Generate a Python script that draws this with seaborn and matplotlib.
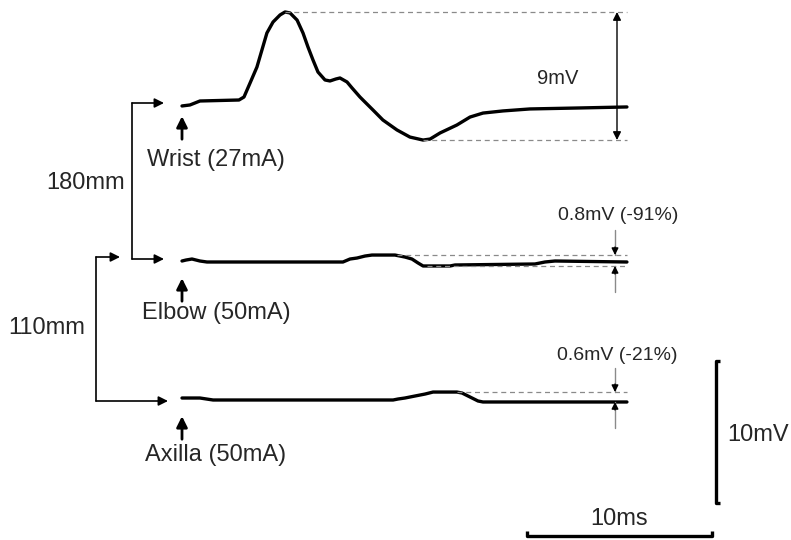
import numpy as np
import pandas as pd
import seaborn as sns
import matplotlib.pyplot as plt

# traces: time (ms after stimulus), amplitude (mV, relative to start baseline)
wrist_t = [0, 0.43, 0.70, 0.97, 3.08, 3.35, 3.68, 4.05, 4.32, 4.59, 4.92, 5.30, 5.57, 5.84, 6.22,
           6.54, 6.81, 7.08, 7.35, 7.73, 8.00, 8.32, 8.54, 8.92, 9.19, 9.62, 9.78, 10.32, 10.86,
           11.62, 12.32, 13.03, 13.41, 13.95, 14.86, 15.57, 16.27, 17.35, 18.81, 21.51, 24.05]
wrist_mv = [-0.42, -0.35, -0.21, -0.07, 0, 0.21, 1.20, 2.32, 3.52, 4.72, 5.49, 5.99, 6.20, 6.13, 5.63,
            4.72, 3.73, 2.82, 1.97, 1.41, 1.34, 1.48, 1.55, 1.27, 0.85, 0.21, 0, -0.70, -1.41,
            -2.11, -2.61, -2.82, -2.75, -2.32, -1.76, -1.20, -0.92, -0.77, -0.63, -0.56, -0.49]

elbow_t = [0, 0.22, 0.54, 0.97, 1.35, 8.70, 9.08, 9.46, 9.89, 10.27, 11.51, 12.05, 12.43, 12.76,
           13.03, 14.49, 14.76, 19.08, 19.62, 20.16, 24.05]
elbow_mv = [0.07, 0.14, 0.21, 0.07, 0, 0, 0.21, 0.28, 0.42, 0.49, 0.49, 0.35, 0.21, -0.07,
            -0.28, -0.28, -0.21, -0.14, 0, 0.07, 0]

axilla_t = [0, 0.97, 1.68, 11.41, 11.68, 12.05, 12.59, 13.14, 13.57, 14.86, 15.14, 15.57, 16.0,
            16.27, 24.05]
axilla_mv = [0.14, 0.14, 0, 0, 0.07, 0.14, 0.28, 0.42, 0.56, 0.56, 0.49, 0.21, -0.07, -0.14, -0.14]

site_labels = ["Wrist (27mA)", "Elbow (50mA)", "Axilla (50mA)"]
amp_labels = ["9mV", "0.8mV (-91%)", "0.6mV (-21%)"]
dist_labels = ["180mm", "110mm"]
scale_ms = 10
scale_mv = 10

# page layout: pixels per unit
MS_PX, MV_PX = 18.5, 14.2
X0, Y0 = 182, 400
def tx(px):
    return (px - X0) / MS_PX
def vy(py):
    return (Y0 - py) / MV_PX

sns.set_style("white")
plt.rcParams['font.family'] = ['Liberation Sans', 'DejaVu Sans']

fig = plt.figure(figsize=(7.91, 5.40), dpi=100)
ax = fig.add_axes([0, 0, 1, 1])
ax.set_xlim(tx(0), tx(791))
ax.set_ylim(vy(540), vy(0))
ax.axis('off')

offsets = [vy(100), vy(262), vy(400)]
traces = [(wrist_t, wrist_mv), (elbow_t, elbow_mv), (axilla_t, axilla_mv)]
for (t, mv), off in zip(traces, offsets):
    df = pd.DataFrame({"t": t, "mv": np.array(mv) + off})
    sns.lineplot(data=df, x="t", y="mv", sort=False, estimator=None,
                 color="black", lw=2.4, ax=ax)

def arrow(x0, y0, x1, y1, lw=1.0, ms=12, color="black"):
    ax.annotate("", xy=(x1, y1), xytext=(x0, y0),
                arrowprops=dict(arrowstyle="-|>", color=color, lw=lw,
                                shrinkA=0, shrinkB=0, mutation_scale=ms))

dash = dict(colors="#8a8a8a", linestyles=(0, (4, 3)), lw=0.9)
t_end = wrist_t[-1]

# wrist amplitude
w = np.array(wrist_mv)
top, bot = offsets[0] + w.max(), offsets[0] + w.min()
ax.hlines(top, wrist_t[int(w.argmax())], t_end, **dash)
ax.hlines(bot, wrist_t[int(w.argmin())], t_end, **dash)
ax.annotate("", xy=(tx(617), top), xytext=(tx(617), bot),
            arrowprops=dict(arrowstyle="<|-|>", color="black", lw=1.0,
                            shrinkA=0, shrinkB=0, mutation_scale=12))
ax.text(tx(558), vy(78), amp_labels[0], fontsize=14.5, ha="center", va="center")

# small amplitude markers (gray shaft, black head)
def small_arrow(x, y_from, y_to):
    ax.plot([x, x], [y_from, y_to], color="#8a8a8a", lw=1.0)
    d = np.sign(y_to - y_from) * 8 / MV_PX
    arrow(x, y_to - d, x, y_to, lw=1.0, ms=10)

e = np.array(elbow_mv)
etop, ebot = offsets[1] + e.max(), offsets[1] + e.min()
ax.hlines(etop, tx(397), t_end, **dash)
ax.hlines(ebot, tx(427), t_end, **dash)
small_arrow(tx(615), vy(230), etop)
small_arrow(tx(615), vy(292), ebot)
ax.text(tx(618), vy(215), amp_labels[1], fontsize=14, ha="center", va="center")

a = np.array(axilla_mv)
atop, aend = offsets[2] + a.max(), offsets[2] + a[-1]
ax.hlines(atop, tx(457), t_end, **dash)
small_arrow(tx(615), vy(368), atop)
small_arrow(tx(615), vy(428), aend)
ax.text(tx(617), vy(355), amp_labels[2], fontsize=14, ha="center", va="center")

# stimulus arrows and site labels
for off, lab, ly in zip(offsets, site_labels, [160, 313, 455]):
    y_base = off - 1.0
    arrow(0, y_base - 25 / MV_PX, 0, y_base - 2 / MV_PX, lw=2.0, ms=16)
    ax.text(tx(216), vy(ly), lab, fontsize=17, ha="center", va="center")

# distance brackets
ax.plot([tx(132), tx(132)], [vy(103), vy(259)], color="black", lw=1.2)
arrow(tx(132), vy(103), tx(164), vy(103), lw=1.2, ms=14)
arrow(tx(132), vy(259), tx(164), vy(259), lw=1.2, ms=14)
ax.text(tx(86), vy(183), dist_labels[0], fontsize=17, ha="center", va="center")

ax.plot([tx(96), tx(96)], [vy(257), vy(401)], color="black", lw=1.2)
arrow(tx(96), vy(257), tx(120), vy(257), lw=1.2, ms=14)
arrow(tx(96), vy(401), tx(168), vy(401), lw=1.2, ms=14)
ax.text(tx(47), vy(328), dist_labels[1], fontsize=17, ha="center", va="center")

# scale bars
sx, sy0 = tx(716), vy(503)
tick_t = 4 / MS_PX
ax.plot([sx + tick_t, sx, sx, sx + tick_t], [sy0, sy0, sy0 + scale_mv, sy0 + scale_mv],
        color="black", lw=2.4, solid_capstyle="butt")
ax.text(tx(727), vy(435), f"{scale_mv}mV", fontsize=17, ha="left", va="center")

hx0, hy = tx(527), vy(536)
tick_v = 5 / MV_PX
ax.plot([hx0, hx0, hx0 + scale_ms, hx0 + scale_ms], [hy + tick_v, hy, hy, hy + tick_v],
        color="black", lw=2.4, solid_capstyle="butt")
ax.text(hx0 + scale_ms / 2, vy(519), f"{scale_ms}ms", fontsize=17, ha="center", va="center")

fig.savefig("out.png", dpi=100)
